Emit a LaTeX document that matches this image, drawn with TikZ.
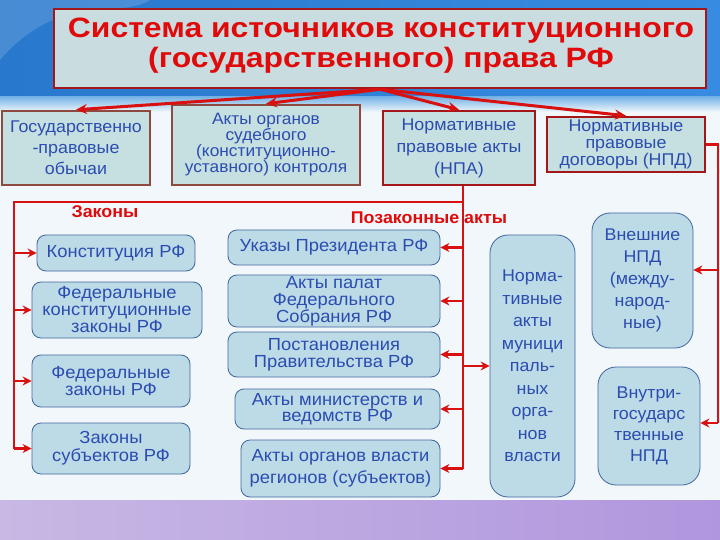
\documentclass[tikz,border=0pt]{standalone}
\usepackage{fontspec}
\setmainfont[FakeStretch=1.05]{Liberation Sans}
\newfontfamily\titlefont[FakeStretch=1.14]{Liberation Sans}
\usetikzlibrary{arrows.meta,calc}
\definecolor{tred}{HTML}{E00A0A}
\definecolor{lred}{HTML}{D81010}
\definecolor{tblue}{HTML}{2B4DB0}
\definecolor{tfill}{HTML}{C9DDE1}
\definecolor{bfill}{HTML}{C6DFE0}
\definecolor{bbrown}{HTML}{8E4A3F}
\definecolor{dred}{HTML}{A3161A}
\definecolor{rfill}{HTML}{BDDAE7}
\definecolor{rborder}{HTML}{41669E}
\definecolor{bglight}{HTML}{F1F7FB}
\newcommand\myfs[2]{\fontsize{#1}{#2}\selectfont}
\begin{document}
\begin{tikzpicture}[x=1pt,y=-1pt,
  titlebox/.style={draw=dred, fill=tfill, line width=2.5pt, inner sep=0pt},
  titletext/.style={align=center, inner sep=0pt, text=tred, font=\titlefont\bfseries\myfs{28}{30}},
  topbox/.style={fill=bfill, line width=2.5pt, align=center, inner sep=0pt, text=tblue},
  rbox/.style={draw=rborder, fill=rfill, line width=0.8pt, rounded corners=9pt, align=center, inner sep=0pt, text=tblue},
  tallbox/.style={rbox, rounded corners=18pt},
  conn/.style={draw=lred, line width=2.8pt},
  arr/.style={draw=lred, line width=2.8pt, -{Stealth[length=9pt,width=9pt]}},
  tarr/.style={draw=lred, line width=3pt, -{Stealth[length=11pt,width=10pt]}},
  lbl/.style={text=tred, font=\myfs{17}{17}\bfseries, inner sep=0pt}]
\useasboundingbox (0,0) rectangle (720,540);
% background
\fill[bglight] (0,0) rectangle (720,540);
\shade[left color={rgb,255:red,40;green,120;blue,205}, right color={rgb,255:red,55;green,140;blue,225}] (0,0) rectangle (720,97);
\shade[top color={rgb,255:red,120;green,180;blue,230}, bottom color=bglight] (0,97) rectangle (720,112);
\shade[left color={rgb,255:red,200;green,184;blue,228}, right color={rgb,255:red,176;green,150;blue,222}] (0,500) rectangle (720,540);
\fill[white, opacity=0.15] (0,60) .. controls (60,-10) and (120,20) .. (150,0) -- (0,0) -- cycle;

% title
\node[titlebox, minimum width=652pt, minimum height=79pt] (title) at (380,48.5) {};
\node[titletext] (ttl) at (381,46) {Система источников конституционного\\(государственного) права РФ};

% top row
\node[topbox, draw=bbrown, minimum width=148pt, minimum height=74pt, font=\myfs{17}{21}] (gov) at (76,148) {Государственно\\-правовые\\обычаи};
\node[topbox, draw=bbrown, minimum width=188pt, minimum height=80pt, font=\myfs{16.5}{16}] (acts) at (266,145) {Акты органов\\судебного\\(конституционно-\\уставного) контроля};
\node[topbox, draw=dred, minimum width=152pt, minimum height=74pt, font=\myfs{17}{22}] (npa) at (459,148) {Нормативные\\правовые акты\\(НПА)};
\node[topbox, draw=dred, minimum width=158pt, minimum height=55pt, font=\myfs{17}{17}] (npd) at (626,144.5) {Нормативные\\правовые\\договоры (НПД)};

% laws column
\node[rbox, minimum width=158pt, minimum height=36pt, font=\myfs{17.5}{17}] (konst) at (116,253) {Конституция РФ};
\node[rbox, minimum width=170pt, minimum height=56pt, font=\myfs{17.5}{17}] (fkz) at (117,310) {Федеральные\\конституционные\\законы РФ};
\node[rbox, minimum width=158pt, minimum height=52pt, font=\myfs{17.5}{17}] (fz) at (111,381) {Федеральные\\законы РФ};
\node[rbox, minimum width=158pt, minimum height=51pt, font=\myfs{17.5}{18}] (zs) at (111,448.5) {Законы\\субъектов РФ};

% by-laws column
\node[rbox, minimum width=212pt, minimum height=35pt, font=\myfs{17.5}{17}] (ukaz) at (334,247.5) {Указы Президента РФ};
\node[rbox, minimum width=212pt, minimum height=52pt, font=\myfs{17.5}{17}] (palat) at (334,301) {Акты палат\\Федерального\\Собрания РФ};
\node[rbox, minimum width=212pt, minimum height=45pt, font=\myfs{17.5}{17}] (post) at (334,354.5) {Постановления\\Правительства РФ};
\node[rbox, minimum width=205pt, minimum height=40pt, font=\myfs{17.5}{16}] (mins) at (337.5,409) {Акты министерств и\\ведомств РФ};
\node[rbox, minimum width=199pt, minimum height=57pt, font=\myfs{17.5}{22}] (reg) at (340.5,468.5) {Акты органов власти\\регионов (субъектов)};

% municipal and agreements
\node[tallbox, minimum width=85pt, minimum height=262pt, font=\myfs{17}{22.5}] (mun) at (532.5,366) {Норма-\\тивные\\акты\\муници\\паль-\\ных\\орга-\\нов\\власти};
\node[tallbox, minimum width=101pt, minimum height=135pt, font=\myfs{17}{22}] (ext) at (642.5,280.5) {Внешние\\НПД\\(между-\\народ-\\ные)};
\node[tallbox, minimum width=102pt, minimum height=118pt, font=\myfs{17}{21}] (int) at (649,426) {Внутри-\\государс\\твенные\\НПД};

% labels
\node[lbl] (lzak) at (105,212) {Законы};
\node[lbl] (lpod) at (429,218) {Позаконные акты};

% connectors from title
\draw[tarr] (title.south) -- (gov.north);
\draw[tarr] (title.south) -- (acts.north);
\draw[tarr] (title.south) -- (npa.north);
\draw[tarr] (title.south) -- (npd.north);

% NPA branch
\coordinate (jt) at (463,202);
\coordinate (lt) at (14,202);
\draw[conn] (npa.south -| jt) -- (jt |- reg);
\draw[conn] (jt) -- (lt) -- (lt |- zs);
\draw[arr] (lt |- konst) -- (konst.west);
\draw[arr] (lt |- fkz) -- (fkz.west);
\draw[arr] (lt |- fz) -- (fz.west);
\draw[arr] (lt |- zs) -- (zs.west);
\draw[arr] (jt |- ukaz) -- (ukaz.east);
\draw[arr] (jt |- palat) -- (palat.east);
\draw[arr] (jt |- post) -- (post.east);
\draw[arr] (jt |- mins) -- (mins.east);
\draw[arr] (jt |- reg) -- (reg.east);
\draw[arr] (jt |- mun) -- (mun.west);

% NPD branch
\coordinate (rt) at (718,144.5);
\coordinate (rb) at (718,423);
\coordinate (re) at (718,270);
\draw[conn] (npd.east) -- (rt) -- (rb);
\draw[arr] (re) -- (ext.east |- re);
\draw[arr] (rb) -- (int.east |- rb);
\end{tikzpicture}
\end{document}
